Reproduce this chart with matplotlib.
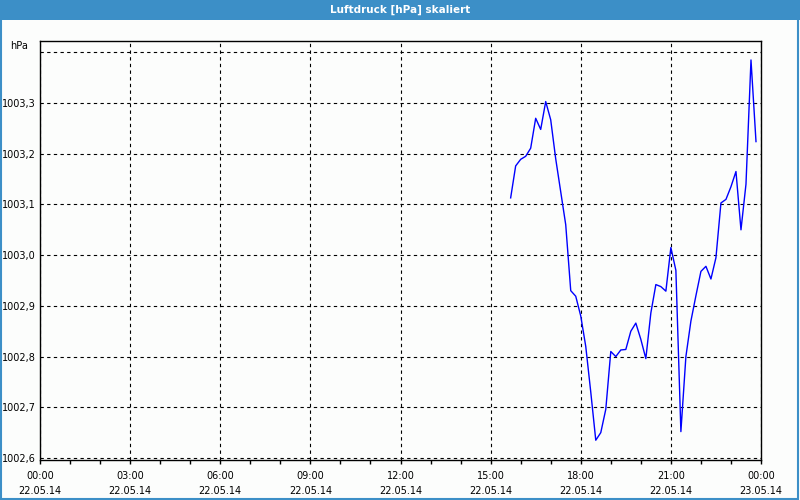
import numpy as np
import matplotlib
matplotlib.use("Agg")
import matplotlib.pyplot as plt
from matplotlib.patches import Rectangle

# Messzeit in Minuten seit 22.05.14 00:00, Luftdruck in hPa
minutes = [940, 950, 960, 970, 980, 990, 1000, 1010, 1020, 1030,
           1040, 1050, 1060, 1070, 1080, 1090, 1100, 1110, 1120, 1130,
           1140, 1150, 1160, 1170, 1180, 1190, 1200, 1210, 1220, 1230,
           1240, 1250, 1260, 1270, 1280, 1290, 1300, 1310, 1320, 1330,
           1340, 1350, 1360, 1370, 1380, 1390, 1400, 1410, 1420, 1430]
pressure = [1003.113, 1003.176, 1003.189, 1003.195, 1003.211, 1003.270, 1003.248, 1003.303, 1003.267, 1003.190,
            1003.125, 1003.060, 1002.930, 1002.919, 1002.880, 1002.820, 1002.730, 1002.635, 1002.650, 1002.696,
            1002.810, 1002.800, 1002.813, 1002.814, 1002.850, 1002.866, 1002.834, 1002.796, 1002.886, 1002.942,
            1002.938, 1002.929, 1003.015, 1002.970, 1002.652, 1002.800, 1002.870, 1002.920, 1002.968, 1002.978,
            1002.953, 1002.995, 1003.103, 1003.110, 1003.135, 1003.165, 1003.050, 1003.140, 1003.385, 1003.224]

x_ticks_h = [0, 3, 6, 9, 12, 15, 18, 21, 24]
x_tick_labels = ["00:00\n22.05.14", "03:00\n22.05.14", "06:00\n22.05.14", "09:00\n22.05.14",
                 "12:00\n22.05.14", "15:00\n22.05.14", "18:00\n22.05.14", "21:00\n22.05.14",
                 "00:00\n23.05.14"]
y_ticks = [1002.6, 1002.7, 1002.8, 1002.9, 1003.0, 1003.1, 1003.2, 1003.3, 1003.4]
y_tick_labels = ["1002,6", "1002,7", "1002,8", "1002,9", "1003,0", "1003,1", "1003,2", "1003,3", ""]

blue_frame = "#3c8fc7"
bg = "#fcfdfc"

plt.rcParams["font.family"] = ["DejaVu Sans"]

fig = plt.figure(figsize=(8, 5), dpi=100, facecolor=bg)
W, H = 800, 500

# title bar and frame
fig.patches.append(Rectangle((0, 1 - 20 / H), 1, 20 / H, transform=fig.transFigure,
                             facecolor=blue_frame, edgecolor="none", zorder=0))
fig.patches.append(Rectangle((0.5 / W, 1.5 / H), 1 - 2.5 / W, 1 - 3 / H, transform=fig.transFigure,
                             facecolor="none", edgecolor=blue_frame, lw=1.5, zorder=1))
fig.text(0.5, 1 - 10 / H, "Luftdruck [hPa] skaliert", color="white", fontsize=7.5,
         fontweight="bold", ha="center", va="center")

ax = fig.add_axes([40 / W, 1 - 460 / H, 721 / W, (460 - 40.7) / H])
ax.set_facecolor(bg)

hours = np.array(minutes) / 60.0
ax.plot(hours, pressure, color="#0000ff", lw=1.0, zorder=3)

ax.set_xlim(0, 24)
ax.set_ylim(1002.596, 1003.423)

ax.set_xticks(x_ticks_h)
ax.set_xticklabels(x_tick_labels, fontsize=7, linespacing=1.65)
ax.set_xticks(np.arange(0, 25, 1), minor=True)
ax.tick_params(axis="x", which="both", length=3, width=1, direction="out", pad=5, colors="black")

ax.set_yticks(y_ticks)
ax.set_yticklabels(y_tick_labels, fontsize=7)
ax.tick_params(axis="y", length=0, pad=3)

ax.grid(True, which="major", color="black", linestyle=(0, (3, 3)), lw=0.8)
for s in ax.spines.values():
    s.set_color("black")
    s.set_linewidth(1.0)
    s.set_zorder(4)

fig.text(28 / W, 1 - 46 / H, "hPa", fontsize=7, ha="right", va="center")

fig.savefig("out.png", dpi=100, facecolor=bg)
